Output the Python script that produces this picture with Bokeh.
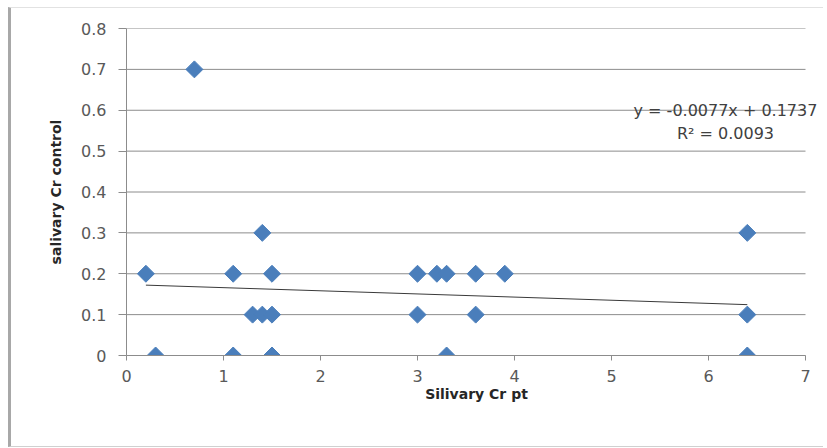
import numpy as np
from bokeh.plotting import figure
from bokeh.models import Label, FixedTicker, Range1d
from bokeh.embed import file_html
from bokeh.resources import INLINE

# data
x_pt = [0.2, 0.7, 0.3, 1.1, 1.1, 1.4, 1.5, 1.3, 1.4, 1.5, 1.5,
        3.0, 3.2, 3.3, 3.6, 3.9, 3.0, 3.6, 3.3, 6.4, 6.4, 6.4]
y_control = [0.2, 0.7, 0.0, 0.2, 0.0, 0.3, 0.2, 0.1, 0.1, 0.1, 0.0,
             0.2, 0.2, 0.2, 0.2, 0.2, 0.1, 0.1, 0.0, 0.3, 0.1, 0.0]
slope = -0.0077
intercept = 0.1737
r2 = 0.0093
x_ticks = [0, 1, 2, 3, 4, 5, 6, 7]
y_ticks = [0, 0.1, 0.2, 0.3, 0.4, 0.5, 0.6, 0.7, 0.8]
y_tick_labels = {0: "0", 0.1: "0.1", 0.2: "0.2", 0.3: "0.3", 0.4: "0.4",
                 0.5: "0.5", 0.6: "0.6", 0.7: "0.7", 0.8: "0.8"}

FONT = "DejaVu Sans"
GRID = "#8c8c8c"
X_MAX = x_ticks[-1]

p = figure(width=815, height=440, output_backend="svg", toolbar_location=None,
           x_range=Range1d(0, X_MAX * 700 / 679), y_range=Range1d(0, 0.8),
           min_border_left=115, min_border_right=0, min_border_top=20,
           min_border_bottom=93)
p.margin = (7, 0, 0, 8)
p.styles = {"border-left": "3px solid #a8a8a8",
            "border-top": "1px solid #e2e2e2",
            "border-bottom": "1px solid #d0d0d0"}
p.outline_line_color = None
p.background_fill_color = "white"
p.border_fill_color = "white"

p.xgrid.grid_line_color = None
p.ygrid.grid_line_color = None
# horizontal gridlines limited to the axis extent
p.segment(x0=0, x1=X_MAX, y0=y_ticks, y1=y_ticks, line_color=GRID, line_width=1)

p.xaxis.ticker = FixedTicker(ticks=x_ticks)
p.xaxis.bounds = (0, X_MAX)
p.yaxis.ticker = FixedTicker(ticks=y_ticks)
p.yaxis.major_label_overrides = y_tick_labels
for ax in (p.xaxis, p.yaxis):
    ax.axis_line_color = GRID
    ax.major_tick_line_color = GRID
    ax.minor_tick_line_color = None
    ax.major_tick_in = 0
    ax.major_label_text_font = FONT
    ax.major_label_text_font_size = "16px"
    ax.major_label_text_color = "#595959"
    ax.axis_label_text_font = FONT
    ax.axis_label_text_font_style = "bold"
    ax.axis_label_text_font_size = "14px"
    ax.axis_label_text_color = "#262626"
p.xaxis.major_tick_out = 5
p.xaxis.major_label_standoff = 9
p.yaxis.major_tick_out = 8
p.yaxis.major_label_standoff = 12
p.xaxis.axis_label = "Silivary Cr pt"
p.yaxis.axis_label = "salivary Cr control"
p.xaxis.axis_label_standoff = 1
p.yaxis.axis_label_standoff = 14

# trendline over the data's x extent
xs = [min(x_pt), max(x_pt)]
ys = [slope * v + intercept for v in xs]
p.line(xs, ys, line_color="#3a3a3a", line_width=1)

p.scatter(x_pt, y_control, marker="square", angle=np.pi / 4, size=12,
          fill_color="#4a7ebb", line_color="#4a7ebb")

eq = "y = -0.0077x + 0.1737"
p.add_layout(Label(x=6.175, y=0.60, text=eq, text_align="center",
                   text_baseline="middle", text_font=FONT,
                   text_font_size="16px", text_color="#404040"))
p.add_layout(Label(x=6.175, y=0.543, text="R² = %.4f" % r2, text_align="center",
                   text_baseline="middle", text_font=FONT,
                   text_font_size="16px", text_color="#404040"))

open("out.html", "w").write(file_html(p, INLINE))
